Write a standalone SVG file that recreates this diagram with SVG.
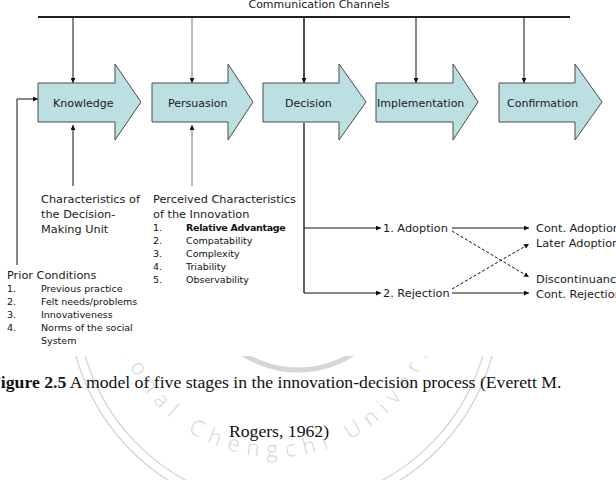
<svg xmlns="http://www.w3.org/2000/svg" width="616" height="480" viewBox="0 0 616 480">
<style>
.stage{fill:#bcdfe1;stroke:#4a4a4a;stroke-width:1}
.lbl{font-family:"DejaVu Sans",Verdana,sans-serif;font-size:11px;fill:#1a1a1a}
.hd{font-family:"DejaVu Sans",Verdana,sans-serif;font-size:11.3px;fill:#1a1a1a}
.li{font-family:"DejaVu Sans",Verdana,sans-serif;font-size:9.5px;fill:#111}
.ln{stroke:#111;stroke-width:1;fill:none}
.gr{stroke:#777;stroke-width:1;fill:none}
.ds{stroke:#111;stroke-width:1;fill:none;stroke-dasharray:3 2}
.cap{font-family:"Liberation Serif","Times New Roman",serif;font-size:17.7px;fill:#111}
.wm{fill:none;stroke:#d2d2d2;stroke-width:1.2}
</style>
<defs>
<marker id="ah" viewBox="0 0 6 6" refX="6" refY="3" markerWidth="5" markerHeight="5" orient="auto" markerUnits="userSpaceOnUse">
<path d="M0,0 L6,3 L0,6 z" fill="#111"/>
</marker>
<clipPath id="wmclip"><rect x="0" y="356" width="616" height="124"/></clipPath>
<path id="wmtext" d="M 113 294 A 163 163 0 0 0 439 294"/>
</defs>
<rect width="616" height="480" fill="#fff"/>

<g id="watermark" clip-path="url(#wmclip)">
<circle class="wm" cx="284" cy="298" r="216"/>
<circle class="wm" cx="284" cy="298" r="207"/>
<circle cx="298" cy="268" r="102" fill="none" stroke="#d6d6d6" stroke-width="5"/>
<text font-family="'Open Sans','Liberation Sans',Arial,sans-serif" font-weight="300" font-size="22" fill="#d6d6d6" letter-spacing="8"><textPath href="#wmtext" startOffset="50%" text-anchor="middle">National Chengchi University</textPath></text>
</g>

<g id="channels">
<line x1="38" y1="17" x2="570" y2="17" stroke="#222" stroke-width="2"/>
<text class="lbl" x="319" y="8" text-anchor="middle">Communication Channels</text>
</g>

<g id="connectors">
<line class="ln" x1="73" y1="18" x2="73" y2="83" marker-end="url(#ah)"/>
<line class="gr" x1="192" y1="18" x2="192" y2="83" marker-end="url(#ah)"/>
<line x1="304" y1="18" x2="304" y2="83" stroke="#111" stroke-width="1.5" marker-end="url(#ah)"/>
<line class="ln" x1="416" y1="18" x2="416" y2="83" marker-end="url(#ah)"/>
<line class="ln" x1="524" y1="18" x2="524" y2="83" marker-end="url(#ah)"/>
<line class="ln" x1="73" y1="186" x2="73" y2="125" marker-end="url(#ah)"/>
<line class="gr" x1="192" y1="186" x2="192" y2="125" marker-end="url(#ah)"/>
<polyline class="ln" points="17,265 17,99 38,99" marker-end="url(#ah)"/>
<line x1="304" y1="123" x2="304" y2="293" stroke="#111" stroke-width="1.3"/>
<line class="ln" x1="304" y1="228" x2="381" y2="228" marker-end="url(#ah)"/>
<line class="ln" x1="304" y1="293" x2="381" y2="293" marker-end="url(#ah)"/>
<line class="ln" x1="452" y1="228" x2="529" y2="228" marker-end="url(#ah)"/>
<line class="ln" x1="452" y1="293" x2="529" y2="293" marker-end="url(#ah)"/>
<line class="ds" x1="452" y1="231" x2="529" y2="277" marker-end="url(#ah)"/>
<line class="ds" x1="452" y1="289" x2="529" y2="244" marker-end="url(#ah)"/>
</g>

<g id="knowledge">
<path class="stage" d="M38,83 H115 V64 L141,102 L115,140 V122 H38 Z"/>
<text class="lbl" x="53" y="107">Knowledge</text>
</g>
<g id="persuasion">
<path class="stage" d="M152,83 H228 V64 L253,102 L228,140 V122 H152 Z"/>
<text class="lbl" x="168" y="107">Persuasion</text>
</g>
<g id="decision">
<path class="stage" d="M263,83 H339 V64 L366,102 L339,140 V122 H263 Z"/>
<text class="lbl" x="285" y="107">Decision</text>
</g>
<g id="implementation">
<path class="stage" d="M376,83 H453 V64 L478,102 L453,140 V122 H376 Z"/>
<text class="lbl" x="377" y="107">Implementation</text>
</g>
<g id="confirmation">
<path class="stage" d="M499,83 H575 V64 L602,102 L575,140 V122 H499 Z"/>
<text class="lbl" x="507" y="107">Confirmation</text>
</g>

<g id="decision-unit">
<text class="hd" x="41" y="203">Characteristics of</text>
<text class="hd" x="41" y="218">the Decision-</text>
<text class="hd" x="41" y="233">Making Unit</text>
</g>

<g id="perceived">
<text class="hd" x="153" y="203">Perceived Characteristics</text>
<text class="hd" x="153" y="218">of the Innovation</text>
<text class="li" x="153" y="231">1.</text><text class="li" x="186" y="231" font-weight="bold" letter-spacing="-0.3">Relative Advantage</text>
<text class="li" x="153" y="244">2.</text><text class="li" x="186" y="244">Compatability</text>
<text class="li" x="153" y="257">3.</text><text class="li" x="186" y="257">Complexity</text>
<text class="li" x="153" y="270">4.</text><text class="li" x="186" y="270">Triability</text>
<text class="li" x="153" y="283">5.</text><text class="li" x="186" y="283">Observability</text>
</g>

<g id="prior">
<text class="hd" x="7" y="279">Prior Conditions</text>
<text class="li" x="7" y="292">1.</text><text class="li" x="41" y="292">Previous practice</text>
<text class="li" x="7" y="305">2.</text><text class="li" x="41" y="305">Felt needs/problems</text>
<text class="li" x="7" y="318">3.</text><text class="li" x="41" y="318">Innovativeness</text>
<text class="li" x="7" y="331">4.</text><text class="li" x="41" y="331">Norms of the social</text>
<text class="li" x="41" y="344">System</text>
</g>

<g id="adoption"><text class="hd" x="383" y="232">1. Adoption</text></g>
<g id="rejection"><text class="hd" x="383" y="297">2. Rejection</text></g>
<g id="cont-adoption"><text class="hd" x="536" y="232">Cont. Adoption</text></g>
<g id="later-adoption"><text class="hd" x="536" y="247">Later Adoption</text></g>
<g id="discontinuance"><text class="hd" x="536" y="283">Discontinuance</text></g>
<g id="cont-rejection"><text class="hd" x="536" y="298">Cont. Rejection</text></g>

<g id="caption">
<text class="cap" x="-10" y="388"><tspan font-weight="bold">Figure 2.5</tspan> A model of five stages in the innovation-decision process (Everett M.</text>
<text class="cap" x="279" y="437" text-anchor="middle">Rogers, 1962)</text>
</g>
</svg>
